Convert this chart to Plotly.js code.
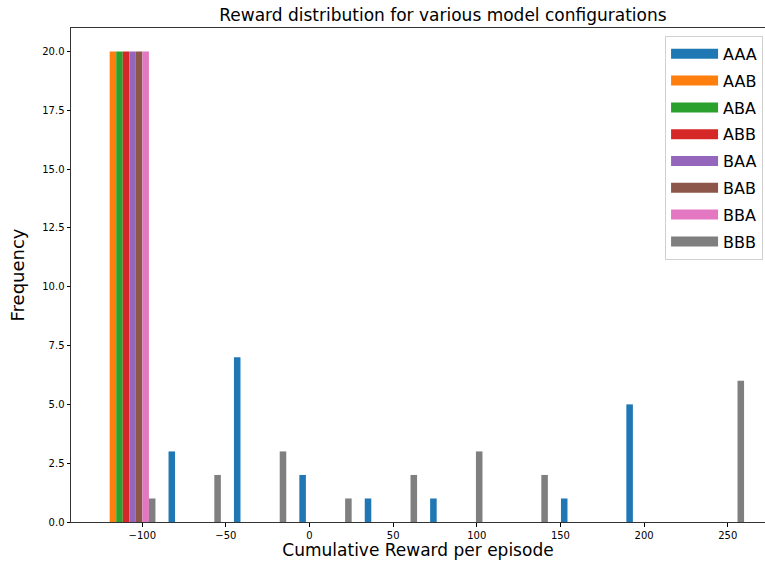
<!DOCTYPE html>
<html>
<head>
<meta charset="utf-8">
<script src="https://cdn.plot.ly/plotly-3.0.1.min.js"></script>
<style>
html, body { margin: 0; padding: 0; overflow: hidden; background: #fff; }
#chart { width: 765px; height: 561px; }
</style>
</head>
<body>
<div id="chart"></div>
<script>
// Histogram bin centres (10 bins)
const binCenters = [-107.75, -68.65, -29.55, 9.55, 48.65, 87.75, 126.85, 165.95, 205.05, 244.15];
const seriesNames = ["AAA", "AAB", "ABA", "ABB", "BAA", "BAB", "BBA", "BBB"];
const AAA = [0, 3, 7, 2, 1, 1, 0, 1, 5, 0];
const AAB = [20, 0, 0, 0, 0, 0, 0, 0, 0, 0];
const ABA = [20, 0, 0, 0, 0, 0, 0, 0, 0, 0];
const ABB = [20, 0, 0, 0, 0, 0, 0, 0, 0, 0];
const BAA = [20, 0, 0, 0, 0, 0, 0, 0, 0, 0];
const BAB = [20, 0, 0, 0, 0, 0, 0, 0, 0, 0];
const BBA = [20, 0, 0, 0, 0, 0, 0, 0, 0, 0];
const BBB = [1, 2, 3, 1, 2, 3, 2, 0, 0, 6];
const seriesValues = [AAA, AAB, ABA, ABB, BAA, BAB, BBA, BBB];
const colors = ["#1f77b4", "#ff7f0e", "#2ca02c", "#d62728", "#9467bd", "#8c564b", "#e377c2", "#7f7f7f"];
const xTicks = [-100, -50, 0, 50, 100, 150, 200, 250];
const yTicks = [0, 2.5, 5, 7.5, 10, 12.5, 15, 17.5, 20];

const barTraces = seriesNames.map((name, i) => ({
  type: "bar",
  name: name,
  x: binCenters,
  y: seriesValues[i],
  marker: { color: colors[i], line: { width: 0 } },
  legendgroup: name,
  showlegend: false
}));
// legend-only entries drawn as wide patches (matplotlib style)
const legendTraces = seriesNames.map((name, i) => ({
  type: "scatter",
  mode: "lines",
  name: name,
  x: [null],
  y: [null],
  line: { color: colors[i], width: 12 },
  legendgroup: name,
  showlegend: true
}));

const font = "DejaVu Sans, sans-serif";
const layout = {
  width: 765,
  height: 561,
  margin: { l: 71, r: 0, t: 28, b: 39, pad: 0 },
  paper_bgcolor: "#fff",
  plot_bgcolor: "#fff",
  barmode: "group",
  bargap: 0.2,
  bargroupgap: 0,
  font: { family: font, color: "#000" },
  title: {
    text: "Reward distribution for various model configurations",
    font: { family: font, size: 17, color: "#000" },
    xref: "container", x: 0.579, xanchor: "center",
    yref: "container", y: 0.973, yanchor: "middle"
  },
  xaxis: {
    range: [-142.6, 272.3],
    tickvals: xTicks,
    ticks: "outside", ticklen: 3.5, tickwidth: 1, tickcolor: "#000",
    tickfont: { family: font, size: 10, color: "#000" },
    showgrid: false, zeroline: false,
    showline: true, linecolor: "#333", linewidth: 1, mirror: true,
    title: { text: "Cumulative Reward per episode", font: { family: font, size: 17, color: "#000" }, standoff: 3 }
  },
  yaxis: {
    range: [0, 21],
    tickvals: yTicks,
    tickformat: ".1f",
    ticks: "outside", ticklen: 3.5, tickwidth: 1, tickcolor: "#000",
    tickfont: { family: font, size: 10, color: "#000" },
    showgrid: false, zeroline: false,
    showline: true, linecolor: "#333", linewidth: 1, mirror: false,
    title: { text: "Frequency", font: { family: font, size: 18, color: "#000" }, standoff: 12 }
  },
  legend: {
    x: 0.856, xanchor: "left",
    y: 0.984, yanchor: "top",
    bgcolor: "#fff",
    bordercolor: "#d0d0d0", borderwidth: 1,
    font: { family: font, size: 16, color: "#000" },
    tracegroupgap: 3,
    itemwidth: 47
  },
  showlegend: true
};

Plotly.newPlot("chart", barTraces.concat(legendTraces), layout, { displayModeBar: false, staticPlot: true });
</script>
</body>
</html>
